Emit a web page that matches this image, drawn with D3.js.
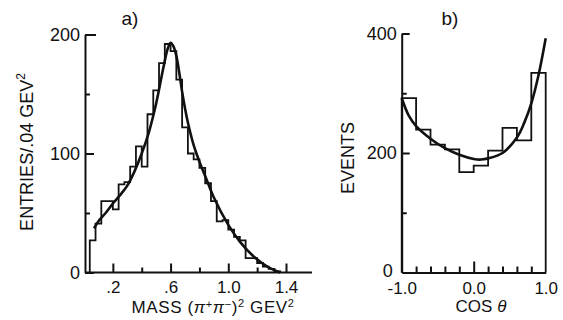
<!DOCTYPE html>
<html lang="en">
<head>
<meta charset="utf-8">
<title>Histograms</title>
<script src="https://cdn.jsdelivr.net/npm/d3@7/dist/d3.min.js"></script>
<style>
  body { margin: 0; background: #fff; }
  text { font-family: "Liberation Sans", Arial, sans-serif; fill: #111; }
</style>
</head>
<body>
<script>
// panel a: mass histogram, bins of .04 starting at .04
var massBinStart = 0.04;
var massBinWidth = 0.04;
var massCounts = [27, 41, 60, 60, 53, 74, 76, 89, 106, 89, 133, 153, 176, 192, 186, 162,
                  122, 100, 95, 88, 75, 60, 43, 44, 36, 30, 27, 12, 12, 8, 5, 3, 1];
// fitted curve
var massCurveX = [0.07, 0.10, 0.15, 0.20, 0.25, 0.30, 0.35, 0.40, 0.45, 0.50, 0.55, 0.58, 0.60,
                  0.62, 0.64, 0.66, 0.68, 0.70, 0.72, 0.74, 0.76, 0.80, 0.85, 0.90, 1.00, 1.08, 1.18, 1.27, 1.36];
var massCurveY = [37, 43, 50, 58, 65, 73, 85, 100, 118, 142, 172, 188, 193,
                  190, 182, 168, 152, 138, 126, 116, 107, 93, 78, 63, 40, 26, 13, 5, 0];
var massMajorTicks = [0.2, 0.6, 1.0, 1.4];
var massTickLabels = [".2", ".6", "1.0", "1.4"];
var massMinorTicks = [0.4, 0.8, 1.2];
var entriesMajor = [0, 100, 200];
var entriesMinor = [50, 150];

// panel b: cos theta histogram, 10 bins from -1 to 1
var cosBinStart = -1.0;
var cosBinWidth = 0.2;
var cosCounts = [292, 239, 214, 206, 168, 179, 204, 242, 221, 334];
var cosCurveX = [-1.0, -0.9, -0.8, -0.6, -0.4, -0.2, 0.0, 0.1, 0.2, 0.4, 0.6, 0.7, 0.8, 0.9, 1.0];
var cosCurveY = [292, 262, 245, 224, 208, 197, 190, 189, 191, 200, 226, 250, 283, 330, 392];
var cosMajorTicks = [-1.0, 0.0, 1.0];
var cosTickLabels = ["-1.0", "0.0", "1.0"];
var cosMinorTicks = [-0.8, -0.6, -0.4, -0.2, 0.2, 0.4, 0.6, 0.8];
var eventsMajor = [0, 200, 400];
var eventsMinor = [100, 300];

var w = 563;
var h = 320;
var ink = "#111";

var svg = d3.select("body")
  .append("svg")
  .attr("width", w)
  .attr("height", h);

function stepPoints(start, width, counts) {
  var pts = [[start, 0]];
  counts.forEach(function(c, i) {
    pts.push([start + i * width, c]);
  });
  var end = start + counts.length * width;
  pts.push([end, counts[counts.length - 1]]);
  pts.push([end, 0]);
  return pts;
}

function styleAxis(g, size) {
  g.selectAll("path, line").attr("stroke", ink).attr("stroke-width", 2);
  g.selectAll("text").attr("font-size", size).attr("fill", ink)
    .attr("font-family", "'Liberation Sans', Arial, sans-serif");
}

// ---------- panel a ----------
var xA = d3.scaleLinear().domain([0, 1.4]).range([84, 286]);
var yA = d3.scaleLinear().domain([0, 200]).range([272.5, 34.5]);

// baseline runs a bit past the last tick
svg.append("line")
  .attr("x1", 85).attr("x2", xA(1.58))
  .attr("y1", yA(0)).attr("y2", yA(0))
  .attr("stroke", ink).attr("stroke-width", 2);

var gxa = svg.append("g").attr("transform", "translate(0," + yA(0) + ")")
  .call(d3.axisBottom(xA).tickValues(massMajorTicks).tickSize(-9).tickSizeOuter(0)
    .tickPadding(8)
    .tickFormat(function(d, i) { return massTickLabels[i]; }));
gxa.select(".domain").remove();
styleAxis(gxa, "17px");

var gxa2 = svg.append("g").attr("transform", "translate(0," + yA(0) + ")")
  .call(d3.axisBottom(xA).tickValues(massMinorTicks).tickSize(-5).tickFormat(""));
gxa2.select(".domain").remove();
styleAxis(gxa2, "17px");

var gya = svg.append("g").attr("transform", "translate(85,0)")
  .call(d3.axisLeft(yA).tickValues(entriesMajor).tickSize(-9).tickSizeOuter(0).tickPadding(5));
styleAxis(gya, "18px");
gya.selectAll(".tick").filter(function(d) { return d === 200; })
  .select("line").attr("x2", 11);

var gya2 = svg.append("g").attr("transform", "translate(85,0)")
  .call(d3.axisLeft(yA).tickValues(entriesMinor).tickSize(-5).tickFormat(""));
gya2.select(".domain").remove();
styleAxis(gya2, "17px");

var lineA = d3.line()
  .x(function(d) { return xA(d[0]); })
  .y(function(d) { return yA(d[1]); });

svg.append("path")
  .attr("d", lineA.curve(d3.curveStepAfter)(stepPoints(massBinStart, massBinWidth, massCounts)))
  .attr("fill", "none").attr("stroke", ink).attr("stroke-width", 1.8);

svg.append("path")
  .attr("d", lineA.curve(d3.curveCatmullRom)(massCurveX.map(function(x, i) { return [x, massCurveY[i]]; })))
  .attr("fill", "none").attr("stroke", ink).attr("stroke-width", 2.6);

svg.append("text").attr("x", 130).attr("y", 25)
  .attr("text-anchor", "middle").attr("font-size", "19px").text("a)");

var ya = svg.append("text")
  .attr("transform", "translate(33,152) rotate(-90)")
  .attr("text-anchor", "middle").attr("font-size", "18px");
ya.append("tspan").text("ENTRIES/.04 GEV");
ya.append("tspan").attr("dy", -8).attr("font-size", "12px").text("2");

var xa = svg.append("text").attr("x", 213).attr("y", 313)
  .attr("text-anchor", "middle").attr("font-size", "17px")
  .attr("letter-spacing", "0.6px");
xa.append("tspan").text("MASS (");
xa.append("tspan").attr("font-style", "italic").text("\u03c0");
xa.append("tspan").attr("dy", -5).attr("font-size", "11px").text("+");
xa.append("tspan").attr("dy", 5).attr("font-style", "italic").text("\u03c0");
xa.append("tspan").attr("dy", -5).attr("font-size", "11px").text("\u2212");
xa.append("tspan").attr("dy", 5).text(")");
xa.append("tspan").attr("dy", -6).attr("font-size", "11px").text("2");
xa.append("tspan").attr("dy", 6).text(" GEV");
xa.append("tspan").attr("dy", -6).attr("font-size", "11px").text("2");

// ---------- panel b ----------
var xB = d3.scaleLinear().domain([-1, 1]).range([401.7, 545.7]);
var yB = d3.scaleLinear().domain([0, 400]).range([272.5, 33.5]);

var gxb = svg.append("g").attr("transform", "translate(0," + yB(0) + ")")
  .call(d3.axisBottom(xB).tickValues(cosMajorTicks).tickSize(-11).tickSizeOuter(0)
    .tickPadding(9)
    .tickFormat(function(d, i) { return cosTickLabels[i]; }));
styleAxis(gxb, "17px");
gxb.selectAll(".tick").filter(function(d) { return d !== 0; }).select("line").remove();

var gxb2 = svg.append("g").attr("transform", "translate(0," + yB(0) + ")")
  .call(d3.axisBottom(xB).tickValues(cosMinorTicks).tickSize(-6).tickFormat(""));
gxb2.select(".domain").remove();
styleAxis(gxb2, "17px");

var gyb = svg.append("g").attr("transform", "translate(401.7,0)")
  .call(d3.axisLeft(yB).tickValues(eventsMajor).tickSize(-8).tickSizeOuter(0).tickPadding(5));
styleAxis(gyb, "18px");
gyb.selectAll(".tick").filter(function(d) { return d === 0; }).select("line").remove();
gyb.selectAll(".tick").filter(function(d) { return d === 0; }).select("text")
  .attr("dy", "0.2em").attr("x", -9);

var gyb2 = svg.append("g").attr("transform", "translate(401.7,0)")
  .call(d3.axisLeft(yB).tickValues(eventsMinor).tickSize(-5).tickFormat(""));
gyb2.select(".domain").remove();
styleAxis(gyb2, "17px");

var lineB = d3.line()
  .x(function(d) { return xB(d[0]); })
  .y(function(d) { return yB(d[1]); });

svg.append("path")
  .attr("d", lineB.curve(d3.curveStepAfter)(stepPoints(cosBinStart, cosBinWidth, cosCounts)))
  .attr("fill", "none").attr("stroke", ink).attr("stroke-width", 1.8);

svg.append("path")
  .attr("d", lineB.curve(d3.curveCatmullRom)(cosCurveX.map(function(x, i) { return [x, cosCurveY[i]]; })))
  .attr("fill", "none").attr("stroke", ink).attr("stroke-width", 2.6);

svg.append("text").attr("x", 450).attr("y", 25)
  .attr("text-anchor", "middle").attr("font-size", "19px").text("b)");

svg.append("text")
  .attr("transform", "translate(354,158) rotate(-90)")
  .attr("text-anchor", "middle").attr("font-size", "18px").text("EVENTS");

var xb = svg.append("text").attr("x", 481).attr("y", 312)
  .attr("text-anchor", "middle").attr("font-size", "17px");
xb.append("tspan").text("COS  ");
xb.append("tspan").attr("font-style", "italic").text("\u03b8");
</script>
</body>
</html>
